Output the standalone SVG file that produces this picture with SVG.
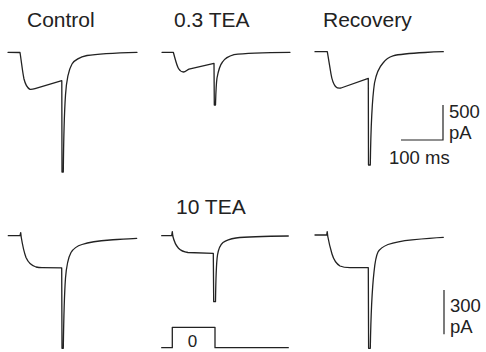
<svg xmlns="http://www.w3.org/2000/svg" width="486" height="352" viewBox="0 0 486 352">
<style>
.tr{fill:none;stroke:#222;stroke-width:1.3;stroke-linejoin:round;stroke-linecap:round}
.sb{fill:none;stroke:#222;stroke-width:1.2}
.t{font-family:"Liberation Sans",Arial,sans-serif;fill:#222}
.ti{font-size:21px}
.sl{font-size:18.5px}
</style>
<rect width="486" height="352" fill="#fff"/>
<g id="titles">
<text class="t ti" x="27" y="26.7">Control</text>
<text class="t ti" x="174" y="26.7">0.3 TEA</text>
<text class="t ti" x="323" y="26.7">Recovery</text>
<text class="t ti" x="176" y="214">10 TEA</text>
</g>
<g id="connectors">
<g id="control-top">
<path class="tr" d="M8,52.3 L20,52.5 C21.5,62 22.5,72 24,79 C25.5,85 27,88 30,89.3 Q32,89.5 35,88.6 L61.8,80.7 L62,172 L63.3,172 C63.6,140 64.5,110 65.5,95 C66.5,80 68.5,70 72,64 C75,59.5 80,57 87,55.5 C97,53.8 110,53 137,52.3"/>
</g>
<g id="tea03-top">
<path class="tr" d="M162,52.3 L173.3,52.3 C175,58 176.5,65 178.5,68.5 C180,71 181.5,72 183.5,72 C185.5,71.8 187,70 189,69.2 L214,63.3 L214.3,105 L215.5,105 C215.8,95 216,85 217,78 C218.5,70 220,65 222.5,62 C225,58 229,56 234,54.6 C245,53 260,52.5 290,52.3"/>
</g>
<g id="recovery-top">
<path class="tr" d="M315,51.7 L327.3,51.7 C328.7,60 330,68 331,74 C332,80 333.5,84 335.5,86.5 C337,88 339,88.5 341,88 L368.3,78.3 L368.5,165 L370.3,165 C370.8,130 372,100 374.5,83 C376,75 378.5,68 383,63 C386,59 389,57 393,55.8 C400,54 410,53.3 425,52.5 C432,52 438,51.8 443.3,51.7"/>
</g>
<g id="control-bottom">
<path class="tr" d="M8.3,235.7 L20,235.7 L20.7,232.7 L21.2,237 C22.5,245 24,252 26,257.5 C28,262 31,265.5 36,267 C38,267.5 40,267.7 42,267.7 L61.7,267.8 L62,348.3 L63.3,348.3 C63.7,320 64.3,295 65.5,278 C66.5,266 68,258 71,252.5 C73.5,248.5 77,246 82,244.5 C90,242 100,240.8 110,240 C120,239.3 128,238.6 136.7,238.3"/>
</g>
<g id="tea10-bottom">
<path class="tr" d="M161.7,235.7 L171.7,235.7 L172.3,231.7 L172.8,236 C174,241 176,245.5 178.5,248.3 C181,251 184,252 188,252.5 L213.3,253.3 L213.7,301.7 L215.5,301.7 C215.8,280 216,265 217.5,255 C218.5,249 220,245 223,242.5 C226,240.3 230,239 236,238 C246,236.8 260,236.3 288.3,236"/>
<path class="tr" d="M161.7,347.7 L172.3,347.7 L172.3,327.3 L215,327.3 L215,347.7 L288.3,347.7"/>
<text class="t" x="192.5" y="347" font-size="17" text-anchor="middle">0</text>
</g>
<g id="recovery-bottom">
<path class="tr" d="M315,235 L326.7,235 L327.2,231.7 L327.8,236.5 C329,243 330.5,249 332,254 C333.5,259 336,263.5 340,266 C343,267.3 346,267.6 350,267.6 L368.3,267.7 L368.6,348.3 L370.3,348.3 C370.8,320 372,290 374,272 C375,262 376,256 378,252 C380,248.5 383,246.5 388,244.5 C395,242 402,240.8 412,239.8 C425,238.5 435,237.7 443.3,237.3"/>
</g>
<g id="scalebar-500">
<path class="sb" d="M443,105 L443,140 L401,140"/>
<text class="t sl" x="449" y="118.3">500</text>
<text class="t sl" x="449" y="139.3">pA</text>
<text class="t sl" x="389" y="164">100 ms</text>
</g>
<g id="scalebar-300">
<path class="sb" d="M444,290 L444,334.3"/>
<text class="t sl" x="450" y="311.5">300</text>
<text class="t sl" x="450" y="332.5">pA</text>
</g>
</g>
</svg>
